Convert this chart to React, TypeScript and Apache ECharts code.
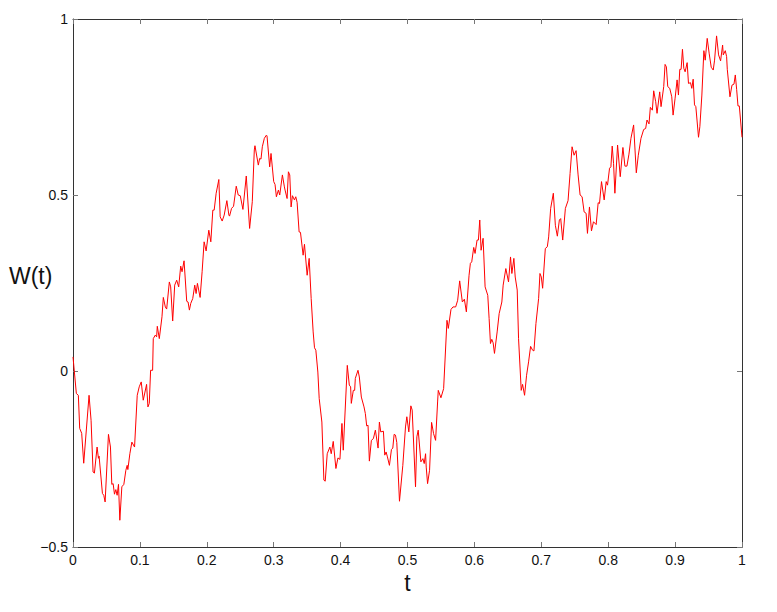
import React, { useEffect, useRef } from "react";
import * as echarts from "echarts";

const xTicks = [0, 0.1, 0.2, 0.3, 0.4, 0.5, 0.6, 0.7, 0.8, 0.9, 1];
const yTicks = [-0.5, 0, 0.5, 1];
const xName = "t";
const yName = "W(t)";

const tValues = [
  0.000, 0.005, 0.008, 0.010, 0.013, 0.016, 0.024, 0.027, 0.030, 0.032, 0.036, 0.038, 0.039, 0.044, 0.046, 0.048,
  0.053, 0.056, 0.058, 0.060, 0.062, 0.064, 0.066, 0.068, 0.070, 0.073, 0.076, 0.079, 0.081, 0.082, 0.085, 0.088,
  0.092, 0.096, 0.099, 0.102, 0.105, 0.110, 0.112, 0.114, 0.116, 0.119, 0.120, 0.123, 0.125, 0.126, 0.129, 0.133,
  0.135, 0.138, 0.140, 0.144, 0.146, 0.149, 0.152, 0.155, 0.158, 0.161, 0.163, 0.166, 0.170, 0.172, 0.174, 0.176,
  0.179, 0.182, 0.184, 0.186, 0.190, 0.193, 0.196, 0.199, 0.203, 0.206, 0.209, 0.211, 0.214, 0.218, 0.220, 0.223,
  0.226, 0.230, 0.233, 0.234, 0.237, 0.240, 0.244, 0.247, 0.250, 0.254, 0.259, 0.264, 0.268, 0.271, 0.272, 0.277,
  0.279, 0.281, 0.283, 0.286, 0.289, 0.290, 0.294, 0.296, 0.300, 0.302, 0.304, 0.307, 0.309, 0.313, 0.316, 0.317,
  0.320, 0.322, 0.324, 0.326, 0.328, 0.331, 0.333, 0.335, 0.338, 0.340, 0.344, 0.346, 0.350, 0.353, 0.356, 0.359,
  0.361, 0.363, 0.366, 0.368, 0.372, 0.375, 0.377, 0.380, 0.384, 0.386, 0.389, 0.393, 0.396, 0.399, 0.402, 0.404,
  0.410, 0.413, 0.415, 0.416, 0.419, 0.421, 0.422, 0.426, 0.428, 0.431, 0.435, 0.437, 0.439, 0.441, 0.443, 0.444,
  0.446, 0.449, 0.452, 0.456, 0.458, 0.460, 0.464, 0.466, 0.468, 0.470, 0.473, 0.476, 0.478, 0.480, 0.482, 0.484,
  0.488, 0.493, 0.497, 0.499, 0.502, 0.505, 0.507, 0.512, 0.514, 0.516, 0.520, 0.523, 0.525, 0.527, 0.528, 0.530,
  0.533, 0.536, 0.539, 0.542, 0.545, 0.546, 0.550, 0.554, 0.559, 0.561, 0.565, 0.568, 0.572, 0.575, 0.578, 0.582,
  0.585, 0.588, 0.592, 0.594, 0.596, 0.599, 0.601, 0.604, 0.606, 0.608, 0.610, 0.613, 0.616, 0.620, 0.622, 0.624,
  0.626, 0.628, 0.630, 0.634, 0.637, 0.641, 0.643, 0.647, 0.651, 0.654, 0.656, 0.659, 0.661, 0.664, 0.666, 0.670,
  0.672, 0.675, 0.678, 0.681, 0.684, 0.687, 0.689, 0.692, 0.696, 0.698, 0.700, 0.702, 0.706, 0.709, 0.711, 0.714,
  0.718, 0.721, 0.724, 0.727, 0.729, 0.732, 0.736, 0.740, 0.743, 0.746, 0.749, 0.752, 0.755, 0.758, 0.761, 0.764,
  0.767, 0.769, 0.772, 0.775, 0.778, 0.782, 0.785, 0.787, 0.790, 0.794, 0.797, 0.799, 0.802, 0.804, 0.806, 0.808,
  0.810, 0.814, 0.818, 0.822, 0.825, 0.828, 0.831, 0.834, 0.838, 0.842, 0.845, 0.849, 0.853, 0.856, 0.858, 0.861,
  0.863, 0.866, 0.868, 0.871, 0.873, 0.877, 0.879, 0.883, 0.885, 0.887, 0.889, 0.892, 0.895, 0.897, 0.900, 0.903,
  0.905, 0.907, 0.909, 0.911, 0.913, 0.915, 0.918, 0.920, 0.923, 0.925, 0.927, 0.929, 0.931, 0.935, 0.937, 0.940,
  0.943, 0.945, 0.948, 0.951, 0.954, 0.957, 0.959, 0.962, 0.965, 0.968, 0.971, 0.972, 0.975, 0.977, 0.978, 0.982,
  0.985, 0.988, 0.990, 0.992, 0.994, 0.996, 1.000,
];

const wValues = [
  0.040, -0.064, -0.069, -0.163, -0.177, -0.262, -0.069, -0.140, -0.287, -0.290, -0.216, -0.248, -0.242, -0.348, -0.353, -0.372,
  -0.180, -0.216, -0.322, -0.320, -0.350, -0.337, -0.353, -0.322, -0.424, -0.329, -0.322, -0.282, -0.268, -0.280, -0.235, -0.202,
  -0.216, -0.069, -0.045, -0.031, -0.083, -0.038, -0.102, -0.092, 0.002, 0.002, 0.092, 0.102, 0.097, 0.127, 0.092, 0.154,
  0.209, 0.182, 0.176, 0.253, 0.239, 0.142, 0.244, 0.258, 0.239, 0.298, 0.282, 0.313, 0.198, 0.196, 0.173, 0.192,
  0.206, 0.244, 0.220, 0.249, 0.209, 0.282, 0.367, 0.341, 0.400, 0.367, 0.457, 0.457, 0.505, 0.544, 0.438, 0.426,
  0.443, 0.484, 0.443, 0.440, 0.462, 0.468, 0.525, 0.500, 0.498, 0.459, 0.554, 0.405, 0.481, 0.628, 0.640, 0.585,
  0.604, 0.602, 0.637, 0.661, 0.670, 0.668, 0.580, 0.618, 0.538, 0.530, 0.495, 0.514, 0.500, 0.557, 0.523, 0.514,
  0.490, 0.566, 0.557, 0.466, 0.498, 0.486, 0.495, 0.479, 0.395, 0.394, 0.329, 0.360, 0.272, 0.320, 0.206, 0.111,
  0.066, 0.059, -0.003, -0.078, -0.145, -0.310, -0.313, -0.235, -0.216, -0.235, -0.200, -0.277, -0.247, -0.251, -0.149, -0.225,
  0.016, -0.040, -0.045, -0.092, -0.055, -0.055, -0.021, 0.002, -0.017, -0.074, -0.102, -0.121, -0.156, -0.154, -0.256, -0.256,
  -0.197, -0.192, -0.168, -0.219, -0.145, -0.173, -0.171, -0.239, -0.230, -0.244, -0.268, -0.223, -0.219, -0.180, -0.182, -0.203,
  -0.370, -0.268, -0.159, -0.130, -0.173, -0.099, -0.111, -0.329, -0.187, -0.168, -0.258, -0.249, -0.263, -0.235, -0.273, -0.320,
  -0.282, -0.146, -0.178, -0.197, -0.088, -0.055, -0.076, -0.050, 0.144, 0.121, 0.175, 0.182, 0.182, 0.201, 0.256, 0.196,
  0.204, 0.168, 0.272, 0.306, 0.310, 0.351, 0.334, 0.372, 0.372, 0.429, 0.343, 0.377, 0.239, 0.215, 0.149, 0.078,
  0.090, 0.080, 0.050, 0.111, 0.163, 0.196, 0.244, 0.291, 0.253, 0.324, 0.277, 0.320, 0.267, 0.230, 0.092, -0.055,
  -0.038, -0.069, -0.012, 0.026, 0.070, 0.059, 0.057, 0.135, 0.206, 0.277, 0.267, 0.235, 0.348, 0.353, 0.381, 0.462,
  0.505, 0.414, 0.383, 0.429, 0.433, 0.372, 0.462, 0.484, 0.561, 0.637, 0.613, 0.626, 0.557, 0.500, 0.495, 0.452,
  0.448, 0.391, 0.466, 0.398, 0.424, 0.416, 0.478, 0.476, 0.538, 0.486, 0.538, 0.528, 0.576, 0.580, 0.639, 0.590,
  0.505, 0.642, 0.552, 0.635, 0.582, 0.582, 0.616, 0.661, 0.699, 0.563, 0.613, 0.661, 0.686, 0.689, 0.713, 0.702,
  0.749, 0.741, 0.796, 0.765, 0.732, 0.793, 0.751, 0.808, 0.871, 0.864, 0.808, 0.803, 0.779, 0.727, 0.775, 0.827,
  0.784, 0.857, 0.857, 0.914, 0.860, 0.850, 0.876, 0.817, 0.819, 0.803, 0.829, 0.756, 0.751, 0.664, 0.694, 0.784,
  0.910, 0.883, 0.945, 0.901, 0.863, 0.855, 0.883, 0.952, 0.898, 0.881, 0.926, 0.898, 0.910, 0.893, 0.857, 0.779,
  0.812, 0.815, 0.841, 0.800, 0.753, 0.753, 0.664,
];

const FONT = "Liberation Sans, Arial, Helvetica, sans-serif";

function fmt(v: number): string {
  const s = String(Math.round(v * 10) / 10);
  return s.replace("-", "\u2212");
}

export default function App() {
  const ref = useRef<HTMLDivElement>(null);

  useEffect(() => {
    if (!ref.current) return;
    const chart = echarts.init(ref.current, undefined, { renderer: "svg" });
    const data = tValues.map((t, i) => [t, wValues[i]]);
    const axisLine = { show: true, onZero: false, lineStyle: { color: "#333", width: 1 } };
    const axisTick = { show: true, inside: true, length: 5, lineStyle: { color: "#777", width: 1 } };
    const label = { color: "#111", fontFamily: FONT, fontSize: 14 };
    chart.setOption({
      animation: false,
      backgroundColor: "#fff",
      grid: { left: 73, right: 35, top: 19, bottom: 65, containLabel: false, outerBoundsMode: "none" },
      graphic: [
        {
          type: "text",
          x: 9,
          y: 276,
          style: {
            text: yName,
            fill: "#111",
            font: `23px ${FONT}`,
            align: "left",
            verticalAlign: "middle",
          },
        },
      ],
      xAxis: [
        {
          type: "value",
          min: xTicks[0],
          max: xTicks[xTicks.length - 1],
          interval: 0.1,
          position: "bottom",
          axisLine,
          axisTick,
          splitLine: { show: false },
          axisLabel: { ...label, margin: 6, formatter: (v: number) => fmt(v) },
          name: xName,
          nameLocation: "middle",
          nameGap: 22,
          nameTextStyle: { color: "#111", fontFamily: FONT, fontSize: 23, verticalAlign: "top" },
        },
        {
          type: "value",
          min: xTicks[0],
          max: xTicks[xTicks.length - 1],
          interval: 0.1,
          position: "top",
          axisLine,
          axisTick,
          splitLine: { show: false },
          axisLabel: { show: false },
        },
      ],
      yAxis: [
        {
          type: "value",
          min: yTicks[0],
          max: yTicks[yTicks.length - 1],
          interval: 0.5,
          position: "left",
          axisLine,
          axisTick,
          splitLine: { show: false },
          axisLabel: { ...label, margin: 5, formatter: (v: number) => fmt(v) },
        },
        {
          type: "value",
          min: yTicks[0],
          max: yTicks[yTicks.length - 1],
          interval: 0.5,
          position: "right",
          axisLine,
          axisTick,
          splitLine: { show: false },
          axisLabel: { show: false },
        },
      ],
      series: [
        {
          type: "line",
          xAxisIndex: 0,
          yAxisIndex: 0,
          data,
          showSymbol: false,
          symbol: "none",
          lineStyle: { color: "#ff0000", width: 1 },
        },
      ],
    });
    return () => chart.dispose();
  }, []);

  return (
    <div
      ref={ref}
      style={{ position: "absolute", left: 0, top: 0, width: 777, height: 612 }}
    />
  );
}
